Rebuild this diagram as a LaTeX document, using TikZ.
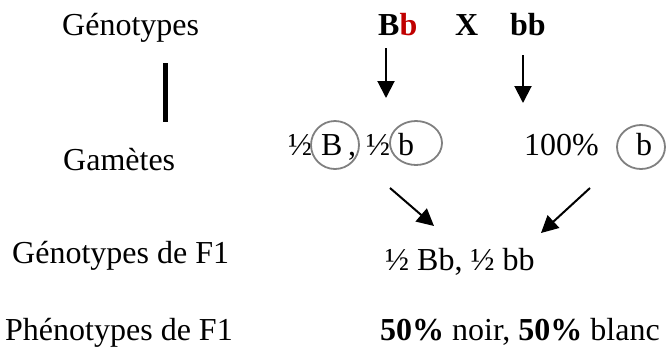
\documentclass[tikz,border=0pt]{standalone}
\usepackage{fontspec}
\setmainfont{Liberation Serif}
\usetikzlibrary{arrows.meta}
\definecolor{rouge}{HTML}{C00000}
\definecolor{gris}{HTML}{808080}

\begin{document}
\begin{tikzpicture}[x=1pt,y=-1pt,>={Triangle[length=17pt,width=17pt]},
  txt/.style={inner sep=0pt,anchor=base west,font=\fontsize{32}{37}\selectfont},
  fl/.style={->,line width=2pt},
  gam/.style={draw=gris,line width=1.8pt}]
  \useasboundingbox (0,0) rectangle (667,349);
  % colonne de gauche
  \node[txt] (geno) at (62,35) {Génotypes};
  \draw[line width=5pt] (165.5,63) -- (165.5,122);
  \node[txt] (gam) at (63,170) {Gamètes};
  \node[txt] (genoF) at (12,263) {Génotypes de F1};
  \node[txt] (pheno) at (5,340) {Phénotypes de F1};
  % croisement
  \node[txt] (Bb) at (378,35) {\bfseries B\textcolor{rouge}{b}};
  \node[txt] (croix) at (455,35) {\bfseries X};
  \node[txt] (bb) at (510,35) {\bfseries bb};
  % gametes
  \node[txt] (dB) at (288,155) {½};
  \node[txt] (B) at (321,155) {B};
  \node[txt] (virg) at (348,155) {,};
  \node[txt] (db) at (366,155) {½};
  \node[txt] (b1) at (398,155) {b};
  \node[txt] (cent) at (524,155) {100\%};
  \node[txt] (b2) at (636,155) {b};
  \draw[gam] (335,145) ellipse (24pt and 24pt);
  \draw[gam] (416,143) ellipse (26pt and 22pt);
  \draw[gam] (641,147) ellipse (24pt and 22pt);
  % F1
  \node[txt] (F1) at (385,270) {½ Bb, ½ bb};
  \node[txt] (res) at (380,340) {\textbf{50\%} noir, \textbf{50\%} blanc};
  % fleches
  \coordinate (s1) at (386,48);  \coordinate (e1) at (386,98);
  \coordinate (s2) at (523,55);  \coordinate (e2) at (523,103);
  \coordinate (s3) at (390,188); \coordinate (e3) at (434,226);
  \coordinate (s4) at (590,188); \coordinate (e4) at (541,233);
  \draw[fl] (s1) -- (e1);
  \draw[fl] (s2) -- (e2);
  \draw[fl] (s3) -- (e3);
  \draw[fl] (s4) -- (e4);
\end{tikzpicture}
\end{document}
